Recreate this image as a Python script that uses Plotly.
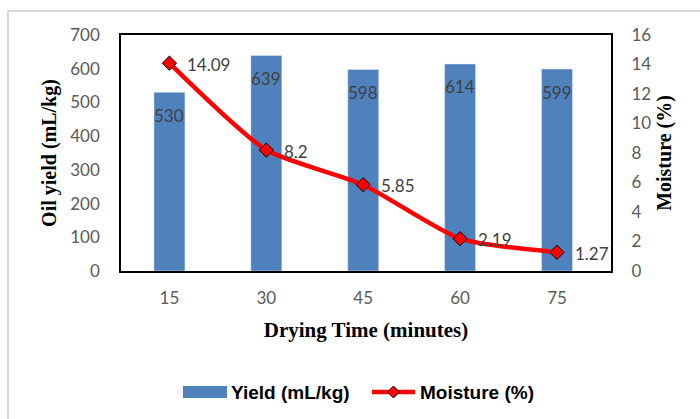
import plotly.graph_objects as go

# data
drying_time = ["15", "30", "45", "60", "75"]
oil_yield = [530, 639, 598, 614, 599]
moisture = [14.09, 8.2, 5.85, 2.19, 1.27]
moisture_labels = ["14.09", "8.2", "5.85", "2.19", "1.27"]

W, H = 700, 419
L, R, T, B = 121, 89, 35, 148
PW, PH = W - L - R, H - T - B


def px(x):  # pixel -> paper x
    return (x - L) / PW


def py(y):  # pixel -> paper y
    return (H - B - y) / PH


label_font = dict(family="Lato, Liberation Sans", size=17, color="#404040")
tickfont = dict(family="Lato, Liberation Sans", size=17, color="#595959")
titlefont = dict(family="Liberation Serif", size=20, color="black")

fig = go.Figure()

fig.add_trace(go.Bar(
    x=drying_time, y=oil_yield, name="Yield (mL/kg)",
    marker_color="#4F81BD", width=0.32, showlegend=False,
))
fig.add_trace(go.Scatter(
    x=drying_time, y=moisture, name="Moisture (%)", yaxis="y2",
    mode="lines+markers",
    line=dict(color="#FF0000", width=4.5, shape="spline", smoothing=0.6),
    marker=dict(symbol="diamond", size=11, color="#FF0000",
                line=dict(color="black", width=1)),
    showlegend=False,
))

# data labels (category axis -> use the category index for annotations)
for i, v in enumerate(oil_yield):
    fig.add_annotation(x=i, y=v, yref="y", text=str(v), showarrow=False,
                       yshift=-23, font=label_font)
for i, (v, t) in enumerate(zip(moisture, moisture_labels)):
    fig.add_annotation(x=i, y=v, yref="y2", text=t, showarrow=False,
                       xanchor="left", xshift=16, yshift=-1, font=label_font)

fig.update_layout(
    width=W, height=H,
    margin=dict(l=L, r=R, t=T, b=B),
    paper_bgcolor="white", plot_bgcolor="white",
    xaxis=dict(
        type="category",
        tickfont=tickfont, showgrid=False, showline=True, linecolor="black",
        linewidth=2, mirror=True, ticks="outside", ticklen=11,
        tickcolor="rgba(0,0,0,0)", automargin=False,
        title=dict(text="<b>Drying Time (minutes)</b>",
                   font=dict(family="Liberation Serif", size=21, color="black"),
                   standoff=15),
    ),
    yaxis=dict(
        range=[0, 700], dtick=100, tickfont=tickfont, showgrid=False,
        zeroline=False, showline=True, linecolor="black", linewidth=1.5,
        mirror=True, ticks="outside", ticklen=16, tickcolor="rgba(0,0,0,0)",
        automargin=False,
        title=dict(text="<b>Oil yield (mL/kg)</b>", font=titlefont, standoff=8),
    ),
    yaxis2=dict(
        range=[0, 16], dtick=2, overlaying="y", side="right", tickfont=tickfont,
        showgrid=False, zeroline=False, ticks="outside", ticklen=16,
        tickcolor="rgba(0,0,0,0)", automargin=False,
        title=dict(text="<b>Moisture (%)</b>", font=titlefont, standoff=6),
    ),
    showlegend=False,
)

# light grey frame around the whole chart
fig.add_shape(type="rect", xref="paper", yref="paper",
              x0=px(8), y0=py(440), x1=px(720), y1=py(11),
              line=dict(color="#D9D9D9", width=2), layer="below")

# legend drawn by hand so the keys match the original
leg_font = dict(family="Liberation Sans Narrow, Liberation Sans", size=19,
                color="black")
fig.add_shape(type="rect", xref="paper", yref="paper",
              x0=px(183), x1=px(227), y0=py(398), y1=py(386),
              fillcolor="#4F81BD", line=dict(width=0))
fig.add_annotation(xref="paper", yref="paper", x=px(229), y=py(392),
                   xanchor="left", yanchor="middle", showarrow=False,
                   text="<b>Yield (mL/kg)</b>", font=leg_font)
fig.add_shape(type="line", xref="paper", yref="paper",
              x0=px(372), x1=px(415), y0=py(392), y1=py(392),
              line=dict(color="#FF0000", width=4.5))
fig.add_shape(type="path", xref="paper", yref="paper",
              path="M {} {} L {} {} L {} {} L {} {} Z".format(
                  px(393.5), py(386), px(399.5), py(392),
                  px(393.5), py(398), px(387.5), py(392)),
              fillcolor="#FF0000", line=dict(color="black", width=1))
fig.add_annotation(xref="paper", yref="paper", x=px(418), y=py(392),
                   xanchor="left", yanchor="middle", showarrow=False,
                   text="<b>Moisture (%)</b>", font=leg_font)

# page has a default 8px body margin; drop it so the figure sits at 0,0
fig.write_html("out.html", config={"displayModeBar": False},
               post_script="document.body.style.margin='0';"
                           "document.body.style.overflow='hidden';")
